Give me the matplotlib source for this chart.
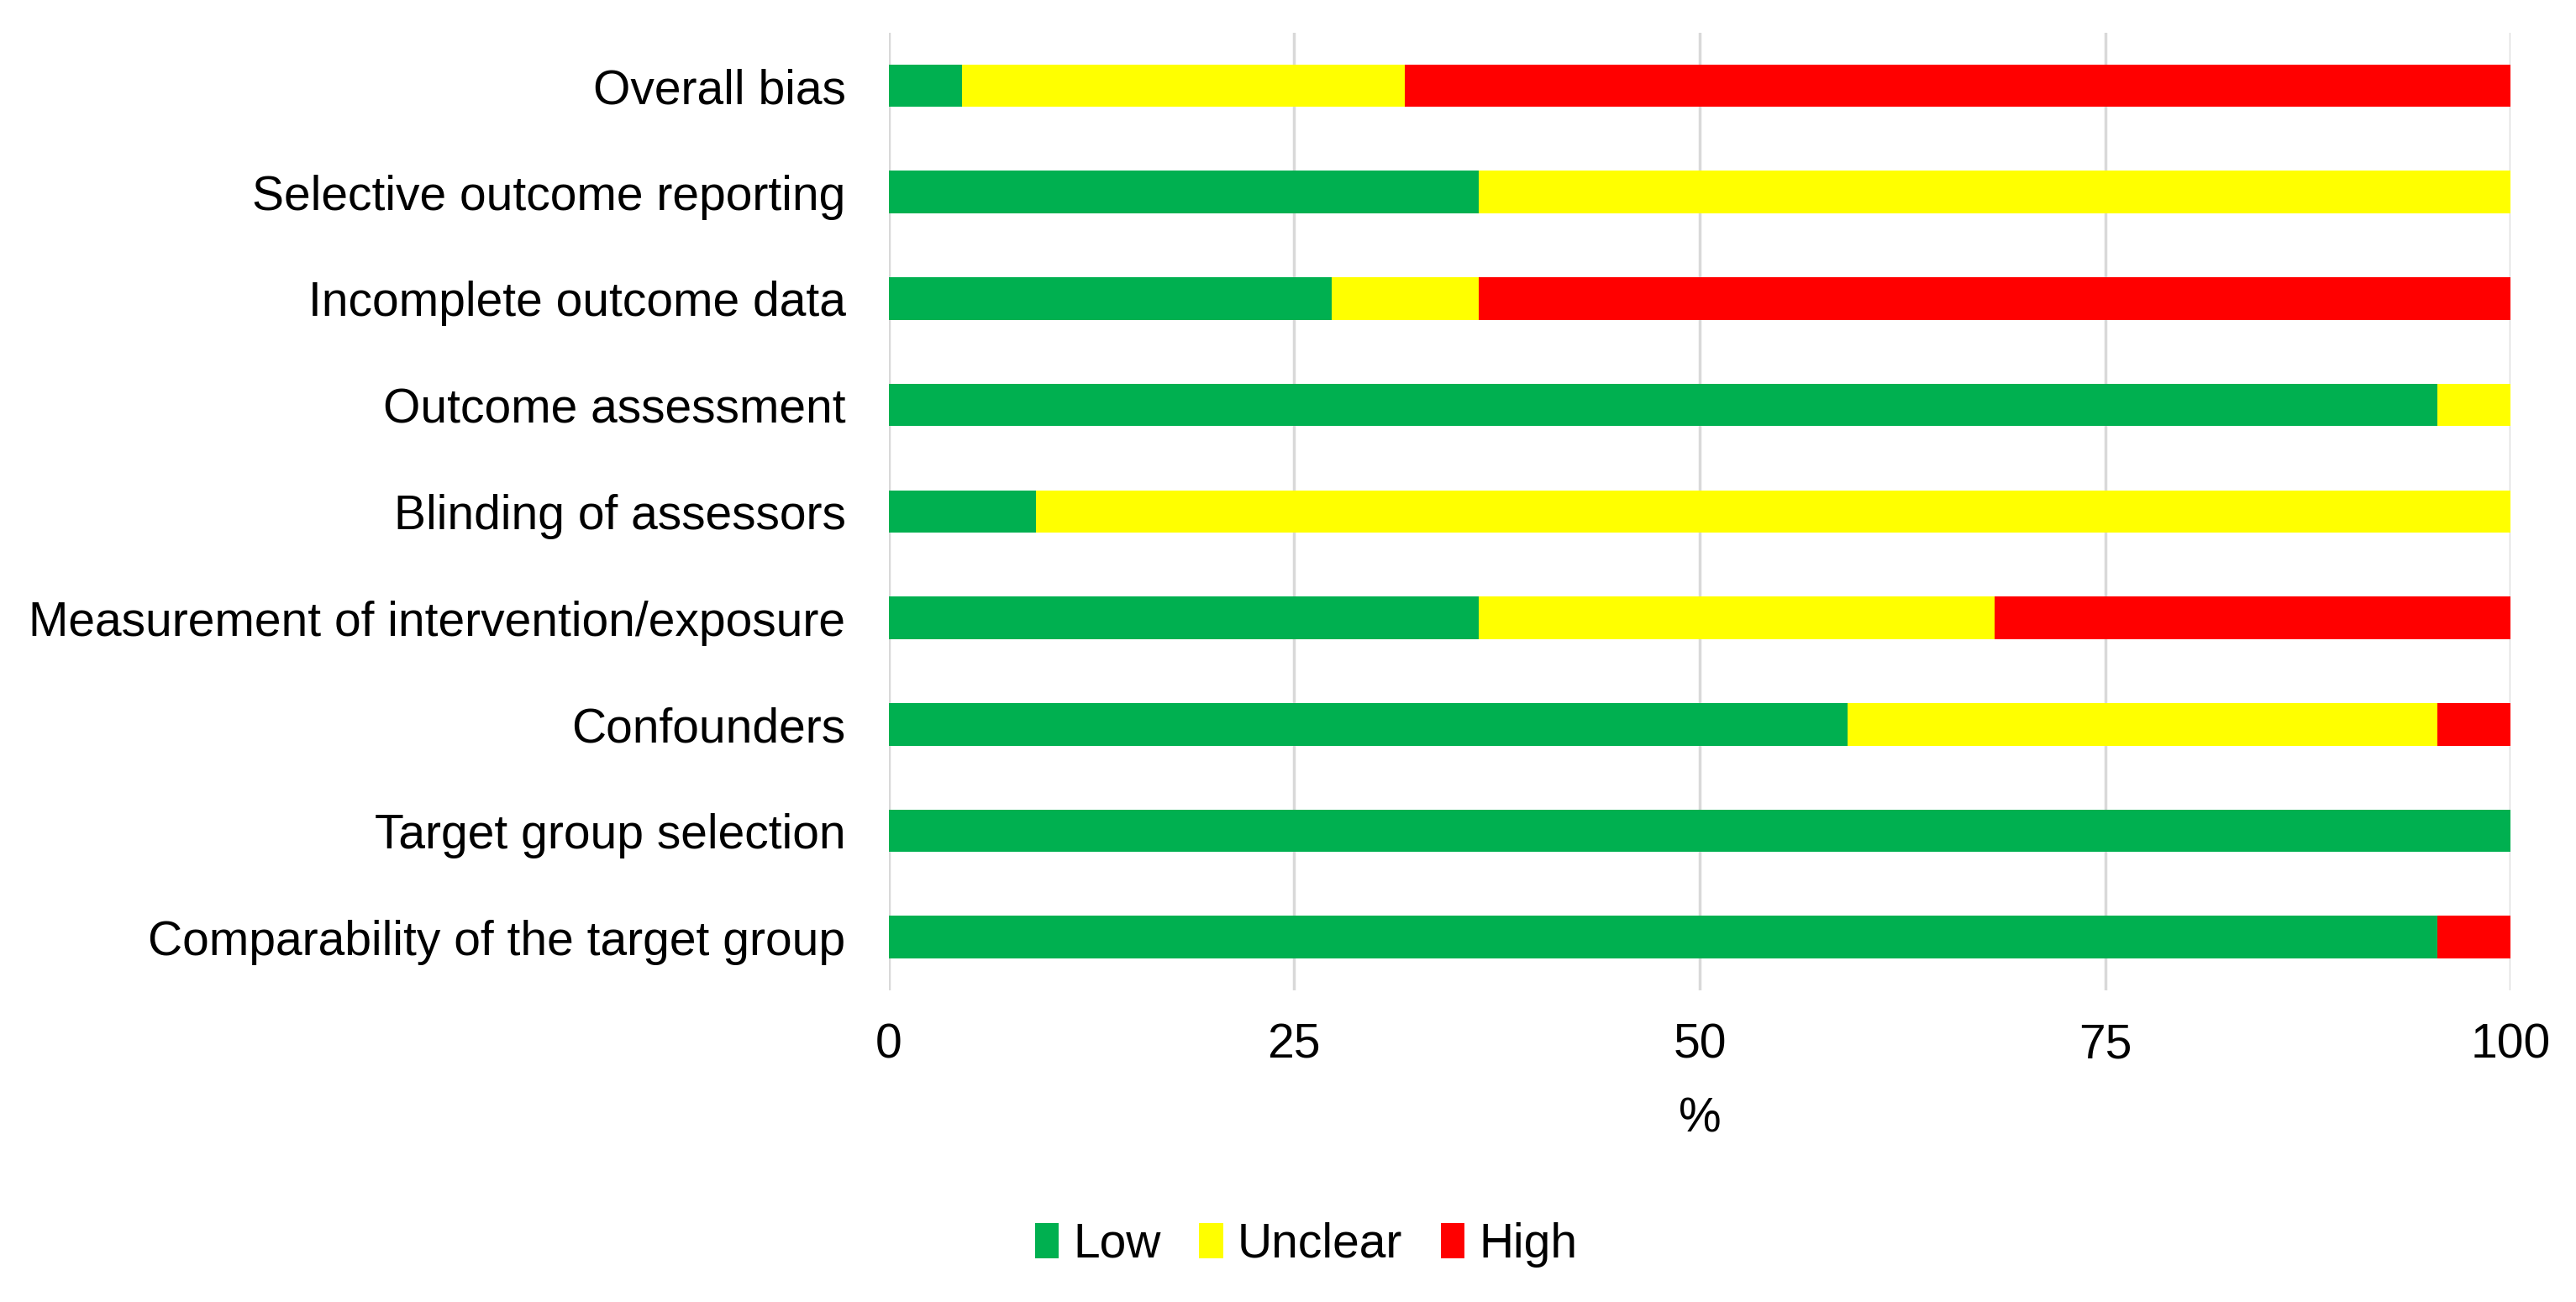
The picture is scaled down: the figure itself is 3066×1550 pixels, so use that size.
import numpy as np
import matplotlib.pyplot as plt

plt.rcParams['font.family'] = ['Liberation Sans', 'DejaVu Sans']

# risk of bias domains, top to bottom as shown
domains = ["Overall bias", "Selective outcome reporting", "Incomplete outcome data",
           "Outcome assessment", "Blinding of assessors",
           "Measurement of intervention/exposure", "Confounders",
           "Target group selection", "Comparability of the target group"]
low = [4.5, 36.4, 27.3, 95.5, 9.1, 36.4, 59.1, 100.0, 95.5]
unclear = [27.3, 63.6, 9.1, 4.5, 90.9, 31.8, 36.4, 0.0, 0.0]
high = [68.2, 0.0, 63.6, 0.0, 0.0, 31.8, 4.5, 0.0, 4.5]
xticks = [0, 25, 50, 75, 100]

colors = {"Low": "#00B050", "Unclear": "#FFFF00", "High": "#FF0000"}
fs = 41

fig = plt.figure(figsize=(30.66, 15.5), dpi=100)
ax = fig.add_axes([0.345, 0.2394, 0.6296, 0.7356])

y = np.arange(len(domains))
low = np.array(low)
unclear = np.array(unclear)
high = np.array(high)
h = 0.4
ax.barh(y, low, height=h, color=colors["Low"], label="Low", zorder=3)
ax.barh(y, unclear, left=low, height=h, color=colors["Unclear"], label="Unclear", zorder=3)
ax.barh(y, high, left=low + unclear, height=h, color=colors["High"], label="High", zorder=3)

ax.set_ylim(len(domains) - 0.5, -0.5)
ax.set_xlim(0, 100)
ax.set_yticks(y)
ax.set_yticklabels(domains, fontsize=fs)
ax.set_xticks(xticks)
ax.set_xticklabels([str(t) for t in xticks], fontsize=fs)
ax.tick_params(axis='both', length=0)
ax.tick_params(axis='y', pad=37)
ax.tick_params(axis='x', pad=28)
ax.xaxis.grid(True, color="#d9d9d9", linewidth=2.5, zorder=0)
for s in ax.spines.values():
    s.set_visible(False)
ax.set_xlabel("%", fontsize=fs, labelpad=24)

fig.legend(loc='center', bbox_to_anchor=(0.507, 0.044), ncol=3, frameon=False,
           fontsize=fs, handlelength=0.5, handleheight=0.75, handletextpad=0.3,
           columnspacing=0.8)

fig.savefig("out.png", dpi=100)
